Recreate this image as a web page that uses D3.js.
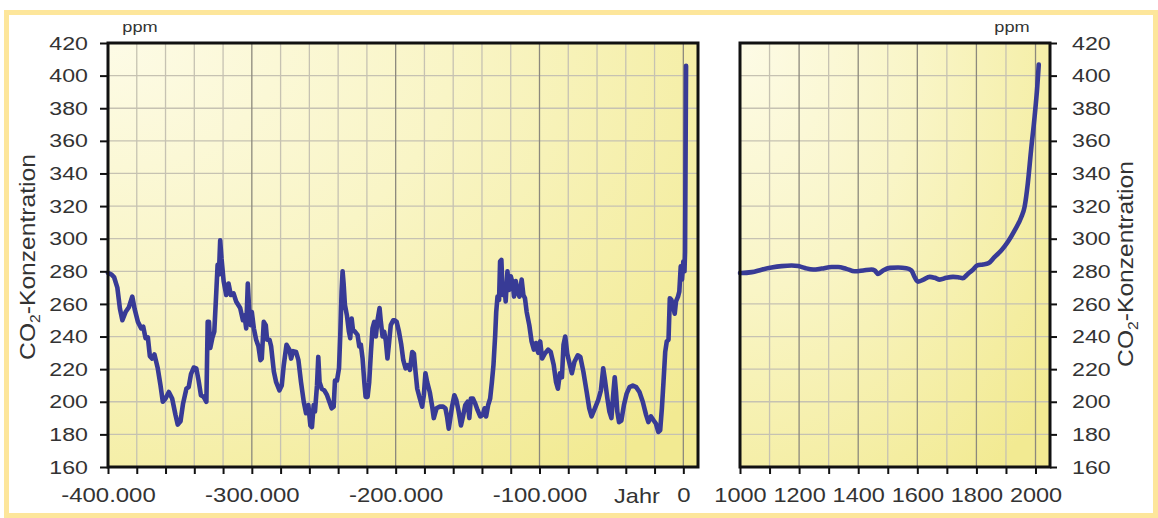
<!DOCTYPE html>
<html>
<head>
<meta charset="utf-8">
<script src="https://cdn.jsdelivr.net/npm/d3@7/dist/d3.min.js"></script>
<style>
  body { margin: 0; background: #fff; }
  svg text { font-family: "Liberation Sans", Arial, Helvetica, sans-serif; fill: #333; }
  .wide { transform-box: fill-box; }
</style>
</head>
<body>
<svg id="chart" width="1158" height="518"></svg>
<script>
// --- Daten: Eisbohrkern (Jahrtausende, 0 = heute) ---
const iceKyr = [-400, -397.5, -395.8, -393.5, -391.7, -390, -387.8, -385.5, -383.1, -381.5, -379.2, -376.9, -375.5, -373.9, -372.3, -370.9, -369.3, -367.7, -365.4, -363.5, -361.9, -360, -357.7, -355.4, -353.1, -351.5, -349.6, -347.8, -345.5, -343.9, -342.3, -340.4, -338.6, -337, -335.4, -333.5, -331.6, -330.7, -329.8, -328.9, -327.5, -326.1, -324.7, -323.8, -322.9, -322, -321.1, -319.6, -317.8, -316.2, -314.6, -312.7, -310.9, -308.1, -306.2, -305.1, -303.9, -302.8, -301.8, -300.9, -300, -298.6, -297, -295.4, -294, -293.1, -291.7, -290.3, -289.4, -287.7, -286.6, -284.7, -283.1, -280.8, -279.2, -277.8, -275.9, -273.9, -272.7, -271.3, -269.2, -267.6, -265.8, -263.9, -262.3, -260.7, -259.3, -258.2, -257, -256.1, -254.7, -253.8, -252.9, -251.4, -249.6, -247.7, -246.1, -244.5, -243.1, -242.2, -240.8, -239.4, -238.5, -237.6, -236.9, -236.2, -235.3, -233.9, -232.5, -231.6, -230.6, -229.7, -228.3, -226.5, -225.3, -224.2, -223, -221.8, -220.9, -219.5, -218.4, -217.2, -216.1, -214.9, -213.8, -212.6, -211.2, -210.3, -209.1, -208, -206.8, -205.7, -204.5, -203.4, -201.7, -200.7, -199.3, -197.7, -196.1, -194.7, -193.1, -191.5, -190.1, -188.5, -187.3, -186.2, -185, -183.2, -181.6, -180.4, -179.3, -178.1, -176.3, -174.6, -173.5, -171.6, -169.3, -167, -165.4, -164.3, -163.1, -162, -160.8, -159.2, -157.8, -156.2, -154.6, -153.2, -151.6, -150, -148.8, -147.7, -146.3, -144.7, -143.1, -141.2, -139.4, -138.2, -137.1, -135.7, -134.3, -133.1, -132, -130.8, -130.1, -129.2, -128.1, -127.4, -126.5, -125.6, -124.4, -123.5, -122.3, -121.2, -120, -118.6, -117.7, -116.5, -115.2, -114, -112.4, -111.2, -110.1, -108.9, -107.1, -105.5, -103.9, -102.5, -100.9, -99.5, -98.2, -96.3, -94, -92.2, -90.1, -88.5, -87.2, -85.8, -84.4, -83.3, -82.1, -80.7, -79.4, -77.5, -75.7, -73.4, -71.6, -69.5, -67.2, -65.4, -63.8, -61.5, -59.2, -57.3, -55.7, -54.6, -52.8, -51.4, -50, -48.6, -47.7, -46.8, -45.9, -44.7, -43.1, -41.3, -39.4, -37.4, -35.1, -32.8, -30.5, -28.2, -25.9, -24.3, -22.5, -20.6, -19, -17.4, -16.1, -14.9, -13.8, -12.6, -11.5, -10.3, -9.4, -8.3, -6.9, -6, -5.1, -3.7, -2.8, -1.8, -0.9, 0, 0.8, 1.2, 1.9];
const icePpm = [279, 278, 276.5, 270, 257, 250, 255, 258, 264.5, 257, 249, 245, 246, 239, 239.5, 228, 226.5, 229, 220.5, 210, 200, 202, 206, 202, 192, 186, 188, 199, 208, 209, 217, 221, 220.5, 213, 204, 203, 200, 249, 249, 233, 239, 243, 267.5, 284, 278, 299, 288, 274, 265.5, 272.5, 265.5, 266.5, 261.5, 257.5, 250, 253, 245, 272.5, 255.5, 247, 255, 245, 238, 234, 225.5, 226.5, 249, 247, 238, 238, 234, 218.5, 212, 207, 210, 222.5, 235, 232, 226.5, 231, 230.5, 225.5, 212, 200, 193, 198, 185.5, 184.5, 198, 194, 210, 227.5, 212, 208, 207, 204, 200, 196, 197, 213, 213, 220.5, 241, 267.5, 280, 272.5, 259.5, 253, 243, 239, 251, 244, 243, 241, 234, 235, 226.5, 212, 203, 203, 212, 230.5, 245, 249, 240, 250, 257.5, 249, 240, 243, 237, 226.5, 237, 247, 250, 250, 249, 243, 235, 225.5, 220.5, 222.5, 219.5, 230.5, 229.5, 218.5, 208, 202, 197, 204, 217.5, 212, 206, 197, 190, 196, 197, 197, 196, 191, 183.5, 190, 197, 204, 201, 194, 185.5, 191, 198, 200, 190, 202, 202, 199, 195, 191, 192, 196, 191, 198, 202, 212, 222.5, 241, 255, 264.5, 262.5, 286, 287, 265.5, 271.5, 261.5, 280, 268.5, 277, 272.5, 264.5, 274, 267.5, 264.5, 275, 265.5, 263.5, 255, 247, 237, 232, 236, 230, 237, 226.5, 229.5, 232, 230.5, 222.5, 212, 208, 217.5, 215, 235, 240, 229.5, 224.5, 217.5, 224.5, 228.5, 227.5, 218.5, 206, 196, 191, 196, 201, 207, 220.5, 214, 202, 194, 190, 206, 215, 206, 194, 187.5, 188.5, 198, 205, 209, 210, 209, 206, 200, 192, 187.5, 191, 188.5, 186.5, 181.5, 182.5, 196, 212, 230.5, 237, 238, 263.5, 262.5, 257.5, 254, 261.5, 264.5, 267.5, 283, 275, 286, 280, 292, 406];

// --- Daten: letzte 1000 Jahre ---
const recentYears = [1000, 1005, 1040, 1073, 1107, 1141, 1175, 1197, 1220, 1248, 1276, 1310, 1332, 1360, 1388, 1417, 1445, 1456, 1467, 1484, 1507, 1535, 1563, 1580, 1591, 1602, 1619, 1642, 1659, 1676, 1698, 1721, 1738, 1754, 1771, 1788, 1803, 1822, 1841, 1861, 1884, 1906, 1929, 1952, 1963, 1974, 1985, 1997, 2006, 2011];
const recentPpm = [279, 279, 279.5, 281, 282.3, 283.2, 283.6, 283.2, 282, 281.1, 281.7, 282.6, 282.6, 281.5, 280, 280.5, 281.1, 280.5, 278.4, 280.5, 282.1, 282.3, 281.9, 280.5, 276.4, 273.7, 274.7, 276.6, 276, 274.9, 276, 276.6, 276.4, 275.8, 278.4, 281, 283.6, 284.2, 285, 288.7, 292.8, 298, 305, 313.3, 319.5, 334, 354.4, 375, 393.4, 406.8];

// --- Achsenbeschriftungen ---
const ppmTicks = [160, 180, 200, 220, 240, 260, 280, 300, 320, 340, 360, 380, 400, 420];
const iceTicks = [-400, -380, -360, -340, -320, -300, -280, -260, -240, -220, -200, -180, -160, -140, -120, -100, -80, -60, -40, -20, 0];
const iceTickLabels = { "-400": "-400.000", "-300": "-300.000", "-200": "-200.000", "-100": "-100.000", "0": "0" };
const recentTicks = [1000, 1100, 1200, 1300, 1400, 1500, 1600, 1700, 1800, 1900, 2000];
const recentTickLabels = { 1000: "1000", 1200: "1200", 1400: "1400", 1600: "1600", 1800: "1800", 2000: "2000" };

const svg = d3.select("#chart");
const plotTop = 43, plotBottom = 467;

// Rahmen
svg.append("rect")
  .attr("x", 6.5).attr("y", 12.5).attr("width", 1149).attr("height", 503)
  .attr("fill", "#fff").attr("stroke", "#fde69b").attr("stroke-width", 5);

// Verlauf im Diagrammfeld
const defs = svg.append("defs");
const grad = defs.append("radialGradient").attr("id", "bg")
  .attr("cx", 0).attr("cy", 0).attr("r", 1.3).attr("fx", 0).attr("fy", 0);
grad.append("stop").attr("offset", "0%").attr("stop-color", "#fdfbe6");
grad.append("stop").attr("offset", "45%").attr("stop-color", "#f9f5c6");
grad.append("stop").attr("offset", "100%").attr("stop-color", "#f2ea92");

const y = d3.scaleLinear().domain([160, 420]).range([plotBottom, plotTop]);
const xL = d3.scaleLinear().domain([-400, 10.2]).range([108, 698]);
const xR = d3.scaleLinear().domain([1000, 2049]).range([740, 1050]);

function panel(x, vTicks, isMajor, xs, ys, curve) {
  const [x0, x1] = x.range();
  const g = svg.append("g");
  g.append("rect").attr("x", x0).attr("y", plotTop).attr("width", x1 - x0).attr("height", plotBottom - plotTop)
    .attr("fill", "url(#bg)");

  // Gitter
  g.selectAll("line.h").data(ppmTicks.slice(1, -1)).enter().append("line")
    .attr("x1", x0).attr("x2", x1).attr("y1", d => y(d)).attr("y2", d => y(d))
    .attr("stroke", "#c6c2b2").attr("stroke-width", 1.3);
  g.selectAll("line.v").data(vTicks.slice(1)).enter().append("line")
    .attr("x1", d => x(d)).attr("x2", d => x(d)).attr("y1", plotTop).attr("y2", plotBottom)
    .attr("stroke", d => isMajor(d) ? "#8c897d" : "#c6c2b2").attr("stroke-width", 1.3);

  // Kurve
  const line = d3.line().x(d => x(d[0])).y(d => y(d[1])).curve(curve);
  g.append("path").datum(xs.map((v, i) => [v, ys[i]]))
    .attr("d", line).attr("fill", "none")
    .attr("stroke", "#383b96").attr("stroke-width", 4.6)
    .attr("stroke-linejoin", "round").attr("stroke-linecap", "round");

  g.append("rect").attr("x", x0).attr("y", plotTop).attr("width", x1 - x0).attr("height", plotBottom - plotTop)
    .attr("fill", "none").attr("stroke", "#111").attr("stroke-width", 3);
  return g;
}

panel(xL, iceTicks, d => d % 100 === 0, iceKyr, icePpm, d3.curveLinear);
panel(xR, recentTicks, d => d % 200 === 0, recentYears, recentPpm, d3.curveMonotoneX);

function styleAxis(g, size, sx, origin) {
  g.select(".domain").remove();
  g.selectAll(".tick line").attr("stroke", "#111").attr("stroke-width", 2);
  g.selectAll("text")
    .attr("class", "wide")
    .style("font-size", size + "px")
    .style("fill", "#333")
    .style("transform-origin", origin)
    .style("transform", `scaleX(${sx})`);
}

// y-Achsen
svg.append("g").attr("transform", `translate(108,0)`)
  .call(d3.axisLeft(y).tickValues(ppmTicks).tickSize(8).tickPadding(12))
  .call(g => styleAxis(g, 19, 1.22, "right center"));
svg.append("g").attr("transform", `translate(1050,0)`)
  .call(d3.axisRight(y).tickValues(ppmTicks).tickSize(7).tickPadding(15))
  .call(g => styleAxis(g, 19, 1.22, "left center"));

// x-Achsen
svg.append("g").attr("transform", `translate(0,${plotBottom})`)
  .call(d3.axisBottom(xL).tickValues(iceTicks).tickSize(7).tickPadding(13)
    .tickFormat(d => iceTickLabels[d] || ""))
  .call(g => styleAxis(g, 21, 1.14, "center"));
svg.append("g").attr("transform", `translate(0,${plotBottom})`)
  .call(d3.axisBottom(xR).tickValues(recentTicks).tickSize(7).tickPadding(13)
    .tickFormat(d => recentTickLabels[d] || ""))
  .call(g => styleAxis(g, 21, 1.12, "center"));

// Beschriftungen
function label(x, yy, txt, size, sx) {
  svg.append("text").attr("class", "wide")
    .attr("x", x).attr("y", yy).attr("text-anchor", "middle")
    .style("font-size", size + "px").style("transform-origin", "center")
    .style("transform", `scaleX(${sx})`).text(txt);
}
label(637, 503, "Jahr", 21, 1.12);
label(140, 32, "ppm", 14, 1.3);
label(1012, 32, "ppm", 14, 1.3);

function yTitle(cx, cy) {
  const t = svg.append("g").attr("transform", `translate(${cx},${cy}) rotate(-90)`)
    .append("text").attr("class", "wide").attr("x", 0).attr("y", 8).attr("text-anchor", "middle")
    .style("font-size", "22px").style("transform-origin", "center").style("transform", "scaleX(1.12)");
  t.append("tspan").text("CO");
  t.append("tspan").text("2").style("font-size", "14px").attr("dy", 5);
  t.append("tspan").text("-Konzentration").attr("dy", -5);
}
yTitle(27, 257);
yTitle(1125, 264);
</script>
</body>
</html>
